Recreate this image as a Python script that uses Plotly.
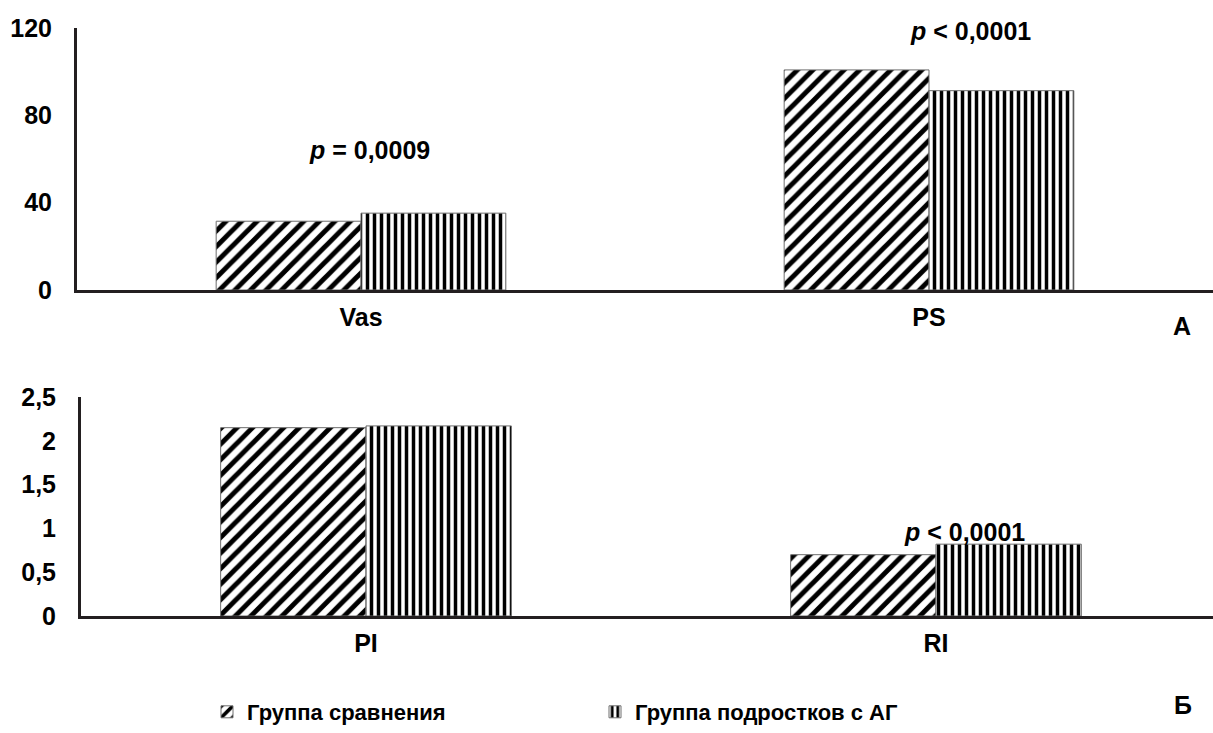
import plotly.graph_objects as go

# Panel A: velocity indices
categories_top = ["Vas", "PS"]
comparison_top = [31.5, 100.8]
ag_top = [35.2, 91.3]

# Panel Б: resistance indices
categories_bottom = ["PI", "RI"]
comparison_bottom = [2.15, 0.70]
ag_bottom = [2.17, 0.82]

series_names = ["Группа сравнения", "Группа подростков с АГ"]

top_tick_vals = [0, 40, 80, 120]
top_tick_text = ["0", "40", "80", "120"]
bottom_tick_vals = [0, 0.5, 1, 1.5, 2, 2.5]
bottom_tick_text = ["0", "0,5", "1", "1,5", "2", "2,5"]

p_top = ["<i>p</i> = 0,0009", "<i>p</i> &lt; 0,0001"]
p_bottom = ["<i>p</i> &lt; 0,0001"]

FONT = "Liberation Sans, Arial, sans-serif"
W, H = 1213, 733

def px_x(p):
    return p / W

def px_y(p):
    return 1 - p / H

diag = dict(shape="/", fgcolor="black", bgcolor="white", size=11, solidity=0.45)
vert = dict(shape="|", fgcolor="black", bgcolor="white", size=7, solidity=0.5)
outline = dict(color="#6e6e6e", width=1)

fig = go.Figure()

fig.add_trace(go.Bar(x=categories_top, y=comparison_top, name=series_names[0],
                     marker=dict(color="white", pattern=diag, line=outline),
                     xaxis="x", yaxis="y", legendgroup="a"))
fig.add_trace(go.Bar(x=categories_top, y=ag_top, name=series_names[1],
                     marker=dict(color="white", pattern=vert, line=outline),
                     xaxis="x", yaxis="y", legendgroup="b"))
fig.add_trace(go.Bar(x=categories_bottom, y=comparison_bottom, name=series_names[0],
                     marker=dict(color="white", pattern=diag, line=outline),
                     xaxis="x2", yaxis="y2", showlegend=False, legendgroup="a"))
fig.add_trace(go.Bar(x=categories_bottom, y=ag_bottom, name=series_names[1],
                     marker=dict(color="white", pattern=vert, line=outline),
                     xaxis="x2", yaxis="y2", showlegend=False, legendgroup="b"))

FS = 25
tick_font = dict(family=FONT, size=FS, color="black", weight="bold")
axis_line = dict(showline=True, linecolor="#231f20", linewidth=3, showgrid=False,
                 zeroline=False, ticks="", automargin=False)

fig.update_layout(
    template="none",
    width=W, height=H,
    margin=dict(l=0, r=0, t=0, b=0, pad=0, autoexpand=False),
    paper_bgcolor="white", plot_bgcolor="white",
    barmode="group", bargap=0.49, bargroupgap=0,
    font=dict(family=FONT, color="black"),
    xaxis=dict(domain=[px_x(77), 1], anchor="y", range=[-0.5, 1.5],
               tickfont=tick_font, ticklabelstandoff=3, **axis_line),
    yaxis=dict(domain=[px_y(290), px_y(28)], anchor="x", range=[0, 120],
               tickvals=top_tick_vals, ticktext=top_tick_text,
               tickfont=tick_font, ticklabelstandoff=17, **axis_line),
    xaxis2=dict(domain=[px_x(81), 1], anchor="y2", range=[-0.5, 1.486],
                tickfont=tick_font, ticklabelstandoff=3, **axis_line),
    yaxis2=dict(domain=[px_y(616), px_y(397)], anchor="x2", range=[0, 2.5],
                tickvals=bottom_tick_vals, ticktext=bottom_tick_text,
                tickfont=tick_font, ticklabelstandoff=17, **axis_line),
    legend=dict(orientation="h", x=px_x(207), xanchor="left", y=px_y(712), yanchor="middle",
                font=dict(family=FONT, size=22, color="black", weight="bold"),
                entrywidth=343, itemwidth=30, bgcolor="rgba(0,0,0,0)"),
)

ann_font = dict(family=FONT, size=FS, color="black", weight="bold")
fig.add_annotation(x=categories_top[0], y=64, xref="x", yref="y", text=p_top[0],
                   showarrow=False, xshift=8, font=ann_font)
fig.add_annotation(x=categories_top[1], y=118.5, xref="x", yref="y", text=p_top[1],
                   showarrow=False, xshift=41, font=ann_font)
fig.add_annotation(x=categories_bottom[1], y=0.96, xref="x2", yref="y2", text=p_bottom[0],
                   showarrow=False, xshift=29, font=ann_font)

# Panel letters
fig.add_annotation(x=px_x(1182), y=px_y(326), xref="paper", yref="paper", text="А",
                   xanchor="center", yanchor="middle", showarrow=False, font=ann_font)
fig.add_annotation(x=px_x(1183), y=px_y(705), xref="paper", yref="paper", text="Б",
                   xanchor="center", yanchor="middle", showarrow=False, font=ann_font)

fig.write_html("out.html")
